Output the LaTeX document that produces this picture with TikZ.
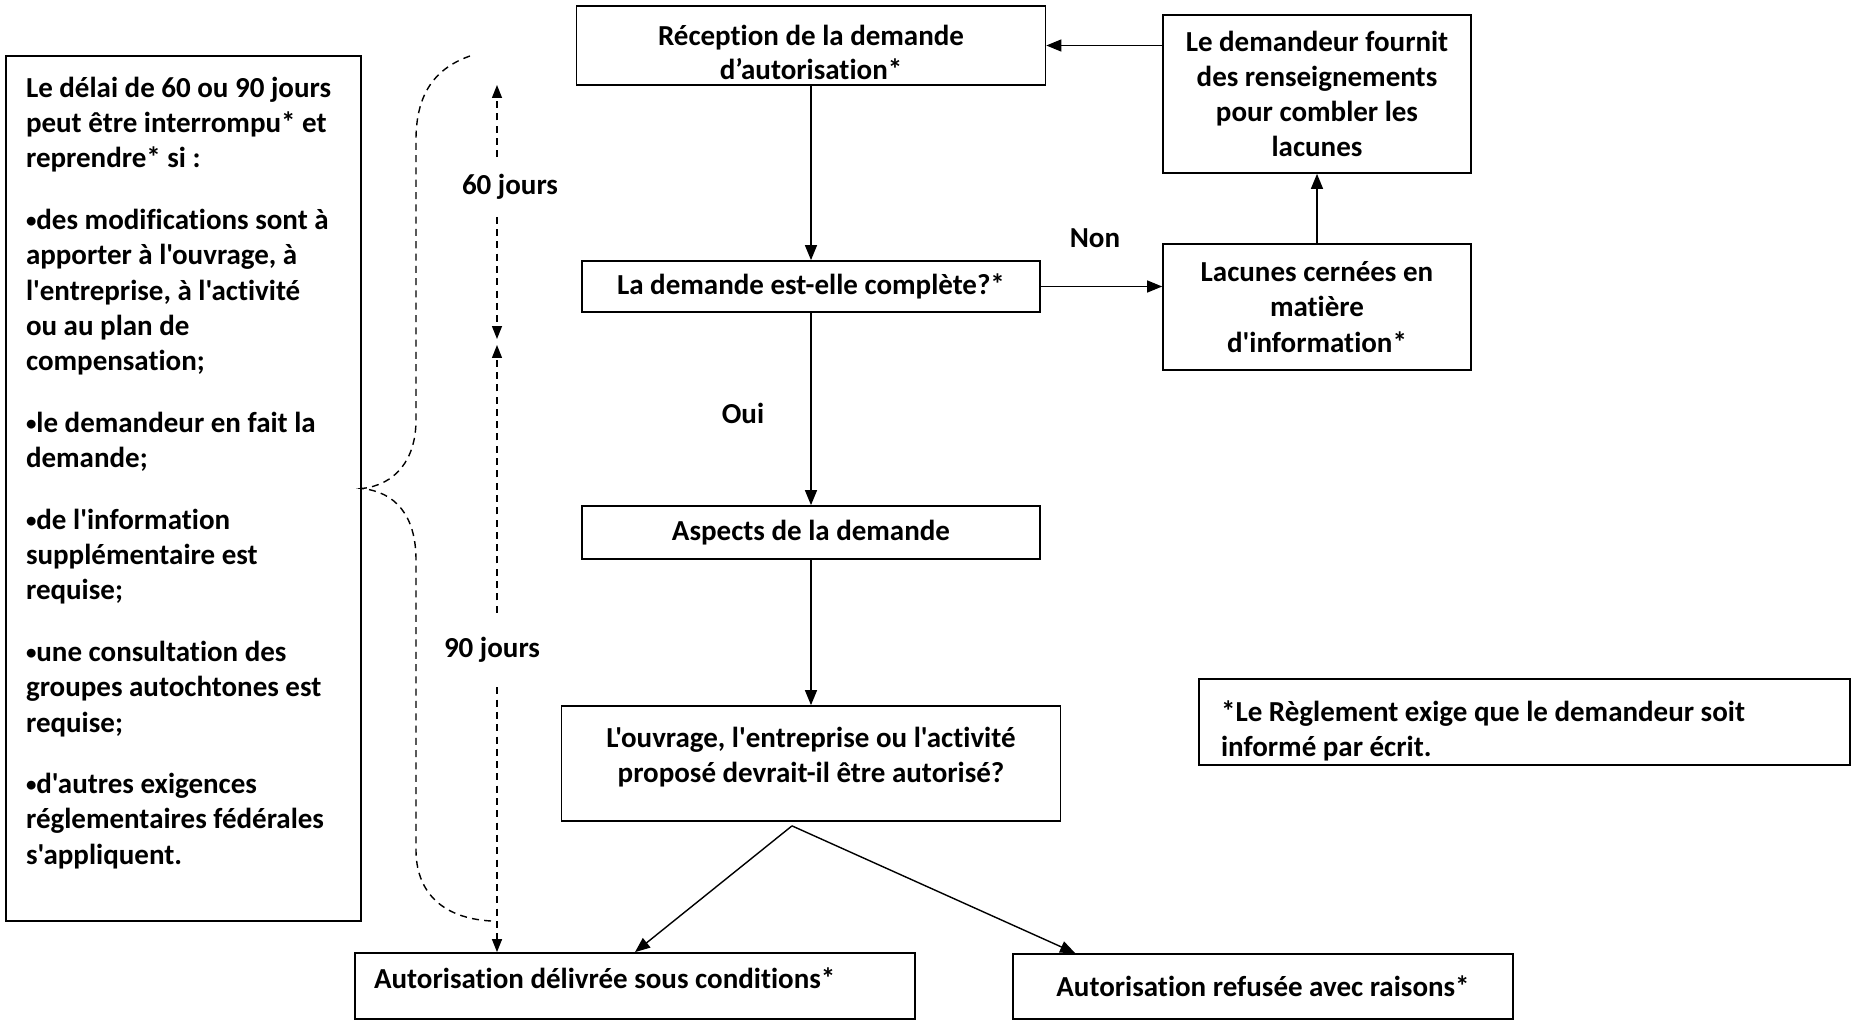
\documentclass[tikz,border=0pt]{standalone}
\usepackage{fontspec}
\newfontfamily\carlito[Ligatures=CommonOff]{Carlito}
\newcommand\puce{\raisebox{0.06em}{\scalebox{0.72}{•}}}
\usetikzlibrary{arrows.meta}
\tikzset{
  box/.style={
    draw,
    line width=1pt,
    inner sep=0pt,
    align=center
  },
  textbox/.style={
    draw,
    line width=1pt,
    inner sep=0pt,
    align=flush left
  },
  tag/.style={
    inner sep=0pt
  },
  flow/.style={
    line width=0.8pt,
    -{Triangle[length=0.3cm,width=0.24cm]}
  },
  dasharrow/.style={
    line width=0.8pt,
    dash pattern=on 4pt off 3pt,
    -{Triangle[length=0.26cm,width=0.2cm]}
  },
  brace/.style={
    line width=0.8pt,
    dash pattern=on 4pt off 3pt
  },
  every picture/.style={
    x=0.02cm, y=-0.02cm,
    font=\carlito\bfseries\fontsize{16.5pt}{20pt}\selectfont
  }
}

\begin{document}
\begin{tikzpicture}
    \useasboundingbox (0,0) rectangle (1854,1024);
    % main column
    \node[box, minimum width=9.38cm, minimum height=1.58cm] (reception) at (811,45.5)
        {\rule{0pt}{0.68cm}Réception de la demande\\[-1pt]d’autorisation*};
    \node[box, minimum width=9.16cm, minimum height=1.02cm] (complete) at (811,286.5)
        {La demande est-elle complète?*};
    \node[box, minimum width=9.16cm, minimum height=1.06cm] (aspects) at (811,532.5)
        {Aspects de la demande};
    \node[box, minimum width=9.98cm, minimum height=2.3cm] (ouvrage) at (811,763.5)
        {L'ouvrage, l'entreprise ou l'activité\\proposé devrait-il être autorisé?\rule[-0.34cm]{0pt}{0.34cm}};
    \node[textbox, text width=10.44cm, minimum width=11.2cm, minimum height=1.32cm] (delivree) at (635,986)
        {Autorisation délivrée sous conditions*\rule[-0.3cm]{0pt}{0.3cm}};
    \node[box, minimum width=10cm, minimum height=1.3cm] (refusee) at (1263,986.5)
        {Autorisation refusée avec raisons*};
    % loop on the right
    \node[box, minimum width=6.16cm, minimum height=3.16cm] (fournit) at (1317,94)
        {Le demandeur fournit\\des renseignements\\pour combler les\\lacunes};
    \node[box, minimum width=6.16cm, minimum height=2.52cm] (lacunes) at (1317,307)
        {Lacunes cernées en\\matière\\d'information*};
    \node[textbox, text width=12.14cm, minimum width=13.02cm, minimum height=1.72cm] (note) at (1524.5,722)
        {\rule{0pt}{0.76cm}*Le Règlement exige que le demandeur soit\\informé par écrit.};
    \node[tag] (non) at (1095,238) {Non};
    \node[tag] (oui) at (743,413) {Oui};
    % conditions on the left
    \node[textbox, minimum width=7.1cm, minimum height=17.3cm] (conditions) at (183.5,488.5)
        {\parbox[c][16.54cm][t]{6.3cm}{\raggedright\baselineskip=20.15pt
        \rule{0pt}{0.44cm}Le délai de 60 ou 90 jours\\
        peut être interrompu* et\\
        reprendre* si :\\[0.52cm]
        \puce des modifications sont à\\
        apporter à l'ouvrage, à\\
        l'entreprise, à l'activité\\
        ou au plan de\\
        compensation;\\[0.52cm]
        \puce le demandeur en fait la\\
        demande;\\[0.52cm]
        \puce de l'information\\
        supplémentaire est\\
        requise;\\[0.52cm]
        \puce une consultation des\\
        groupes autochtones est\\
        requise;\\[0.52cm]
        \puce d'autres exigences\\
        réglementaires fédérales\\
        s'appliquent.}};
    \node[tag, minimum height=1.18cm] (d60) at (510,187) {60 jours};
    \node[tag, minimum height=1.48cm] (d90) at (492,650) {90 jours};
    \coordinate (t60) at (497,85);
    \coordinate (m60) at (497,339);
    \coordinate (m90) at (497,345);
    \coordinate (fork) at ([xshift=-0.38cm,yshift=-0.08cm]ouvrage.south);

    \draw[flow] (reception) -- (complete);
    \draw[flow] (complete) -- (aspects);
    \draw[flow] (aspects) -- (ouvrage);
    \draw[flow] (complete.east) -- (complete.east -| lacunes.west);
    \draw[flow] (lacunes) -- (fournit);
    \draw[flow] (fournit.west |- reception.east) -- (reception.east);
    \draw[flow] (fork) -- (delivree.north);
    \draw[flow] (fork) -- ([xshift=1.26cm]refusee.north west);

    \draw[dasharrow] (d60.north -| t60) -- (t60);
    \draw[dasharrow] (d60.south -| t60) -- (m60);
    \draw[dasharrow] (d90.north -| t60) -- (m90);
    \draw[dasharrow] (d90.south -| t60) -- (delivree.north -| t60);

    \draw[brace] (470,56) .. controls (430,70) and (416,100) .. (416,140) -- (416,420)
        .. controls (416,460) and (395,485) .. (conditions.east)
        .. controls (395,492) and (416,515) .. (416,560) -- (416,850)
        .. controls (416,890) and (440,918) .. (491,921);
\end{tikzpicture}
\end{document}
